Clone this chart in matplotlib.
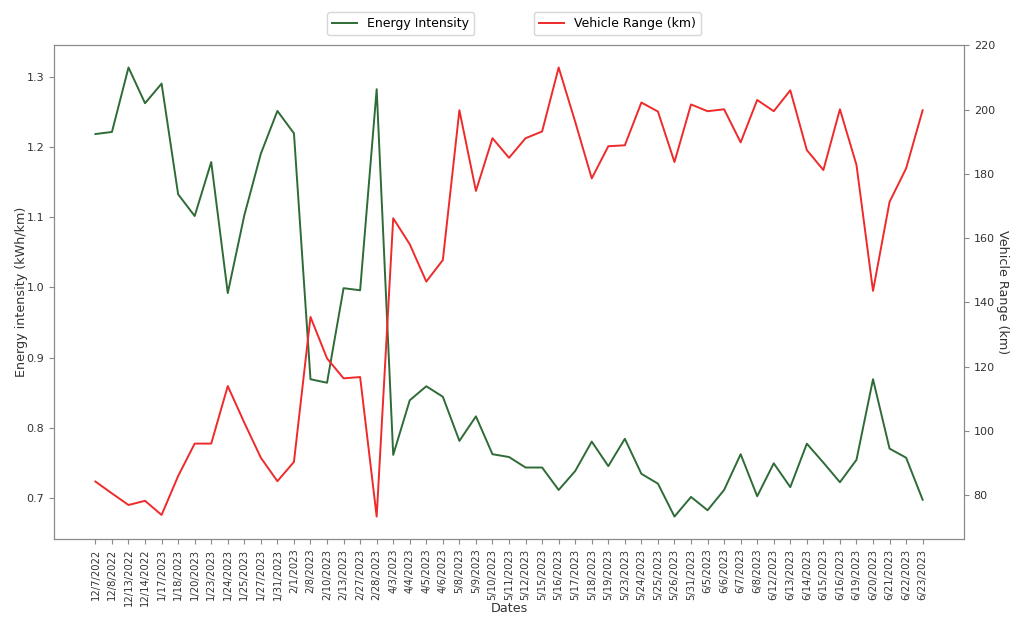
import matplotlib
matplotlib.use("Agg")
import matplotlib.pyplot as plt

dates = ["12/7/2022", "12/8/2022", "12/13/2022", "12/14/2022", "1/17/2023", "1/18/2023",
         "1/20/2023", "1/23/2023", "1/24/2023", "1/25/2023", "1/27/2023", "1/31/2023",
         "2/1/2023", "2/8/2023", "2/10/2023", "2/13/2023", "2/27/2023", "2/28/2023",
         "4/3/2023", "4/4/2023", "4/5/2023", "4/6/2023", "5/8/2023", "5/9/2023",
         "5/10/2023", "5/11/2023", "5/12/2023", "5/15/2023", "5/16/2023", "5/17/2023",
         "5/18/2023", "5/19/2023", "5/23/2023", "5/24/2023", "5/25/2023", "5/26/2023",
         "5/31/2023", "6/5/2023", "6/6/2023", "6/7/2023", "6/8/2023", "6/12/2023",
         "6/13/2023", "6/14/2023", "6/15/2023", "6/16/2023", "6/19/2023", "6/20/2023",
         "6/21/2023", "6/22/2023", "6/23/2023"]

energy_intensity = [1.219, 1.222, 1.314, 1.263, 1.291, 1.133, 1.102, 1.179, 0.992, 1.103,
                    1.191, 1.252, 1.220, 0.869, 0.864, 0.999, 0.996, 1.283, 0.761, 0.839,
                    0.859, 0.844, 0.781, 0.816, 0.762, 0.758, 0.743, 0.743, 0.711, 0.738,
                    0.780, 0.745, 0.784, 0.734, 0.720, 0.673, 0.701, 0.682, 0.711, 0.762,
                    0.702, 0.749, 0.715, 0.777, 0.750, 0.722, 0.754, 0.869, 0.770, 0.757,
                    0.697]

vehicle_range = [84.3, 80.6, 77.0, 78.3, 73.9, 86.0, 96.1, 96.1, 114.0, 102.6,
                 91.7, 84.4, 90.4, 135.5, 122.6, 116.4, 116.8, 73.4, 166.2, 158.1,
                 146.5, 153.2, 199.8, 174.7, 191.1, 185.0, 191.1, 193.2, 213.1, 196.2,
                 178.6, 188.6, 188.9, 202.2, 199.4, 183.7, 201.6, 199.5, 200.1, 189.8,
                 203.0, 199.5, 206.0, 187.4, 181.2, 200.1, 182.8, 143.6, 171.3, 181.7,
                 199.8]

green = "#2e6b36"
red = "#ee2a2a"
spine_col = "#8a8a8a"
text_col = "#333333"

fig = plt.figure(figsize=(10.14, 6.17), dpi=100)
ax = fig.add_axes([0.0533, 0.1264, 0.8974, 0.8006])
ax2 = ax.twinx()

ln1, = ax.plot(dates, energy_intensity, color=green, lw=1.4, label="Energy Intensity")
ln2, = ax2.plot(dates, vehicle_range, color=red, lw=1.4, label="Vehicle Range (km)")

ax.set_xlabel("Dates", fontsize=9.2, color=text_col)
ax.xaxis.set_label_coords(0.5, -0.1275)
ax.set_ylabel("Energy intensity (kWh/km)", fontsize=9.2, color=text_col, labelpad=-1)
ax2.set_ylabel("Vehicle Range (km)", fontsize=9.2, color=text_col, rotation=270, labelpad=10)

ax.tick_params(axis="x", labelrotation=90, labelsize=7.2, colors=text_col)
ax.tick_params(axis="y", labelsize=8, colors=text_col)
ax2.tick_params(axis="y", labelsize=8, colors=text_col)
for a in (ax, ax2):
    for s in a.spines.values():
        s.set_color(spine_col)
    a.tick_params(color=spine_col)

ax.set_yticks([0.7, 0.8, 0.9, 1.0, 1.1, 1.2, 1.3])
ax2.set_yticks([80, 100, 120, 140, 160, 180, 200, 220])

ax.legend(handles=[ln1], loc="upper center", bbox_to_anchor=(0.381, 1.079),
          fontsize=9, frameon=True)
ax2.legend(handles=[ln2], loc="upper center", bbox_to_anchor=(0.619, 1.079),
           fontsize=9, frameon=True)

fig.savefig("out.png", dpi=100)
